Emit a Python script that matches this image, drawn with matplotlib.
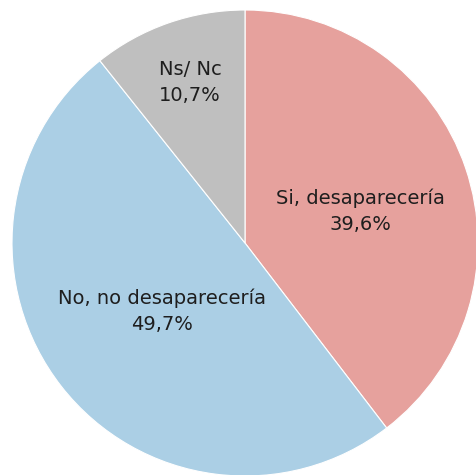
import numpy as np
import matplotlib.pyplot as plt

# data
labels = ['Si, desaparecería', 'No, no desaparecería', 'Ns/ Nc']
values = [39.6, 49.7, 10.7]
colors = ['#E6A19D', '#ABCFE5', '#BFBFBF']

# label placement: distance from centre (fraction of radius) and angle nudge (deg)
label_dist = [0.512, 0.462, 0.728]
label_nudge = [-3.2, 1.5, -0.4]


def pct_text(v):
    return f"{v:.1f}".replace('.', ',') + '%'


fig = plt.figure(figsize=(4.76, 4.75), dpi=100)
ax = fig.add_axes([0, 0, 1, 1])

wedges, _ = ax.pie(values, colors=colors, startangle=90, counterclock=False,
                   radius=1.0, wedgeprops=dict(linewidth=0.8, edgecolor='white'))

for w, name, v, d, nud in zip(wedges, labels, values, label_dist, label_nudge):
    mid = np.deg2rad((w.theta1 + w.theta2) / 2 + nud)
    ax.text(d * np.cos(mid), d * np.sin(mid), name + '\n' + pct_text(v),
            ha='center', va='center', fontsize=14, color='#1e1e1e',
            linespacing=1.5, family='DejaVu Sans')

ax.set_aspect('auto')
ax.set_xlim(-245 / 233, (476 - 245) / 233)
ax.set_ylim(-(475 - 243) / 233, 243 / 233)
ax.axis('off')

fig.savefig('out.png', dpi=100)
